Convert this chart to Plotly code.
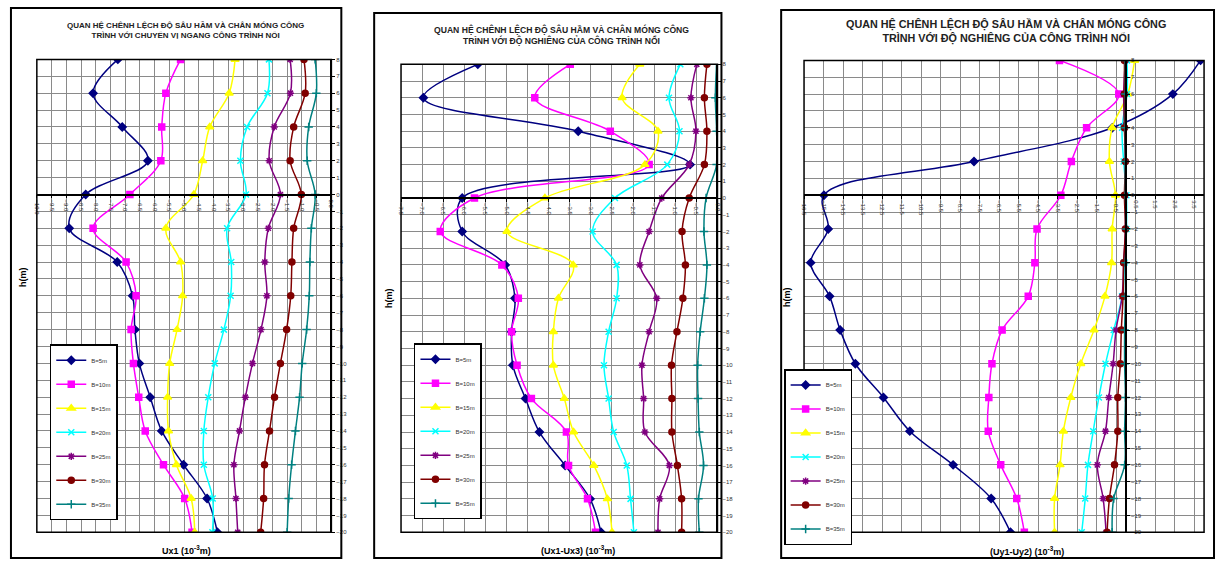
import plotly.graph_objects as go

W, H = 1220, 562
def fx(x): return x / W
def fy(y): return 1 - y / H

h = [8, 6, 4, 2, 0, -2, -4, -6, -8, -10, -12, -14, -16, -18, -20]
names = ["B=5m", "B=10m", "B=15m", "B=20m", "B=25m", "B=30m", "B=35m"]

# Panel 1: Ux1 (10^-3 m)
ux1_5 = [-7.25, -8.09, -7.10, -6.23, -8.34, -8.90, -7.27, -6.75, -6.67, -6.52, -6.15, -5.76, -5.02, -4.22, -3.87]
ux1_10 = [-5.12, -5.62, -5.76, -5.79, -6.84, -8.09, -6.97, -6.63, -6.80, -6.72, -6.54, -6.32, -5.70, -4.98, -4.73]
ux1_15 = [-3.27, -3.47, -4.13, -4.37, -4.67, -5.62, -5.12, -5.05, -5.24, -5.49, -5.56, -5.53, -5.26, -4.76, -4.64]
ux1_20 = [-2.12, -2.17, -2.86, -3.09, -2.90, -3.54, -3.40, -3.42, -3.65, -3.96, -4.18, -4.33, -4.33, -4.03, -4.04]
ux1_25 = [-1.40, -1.39, -1.94, -2.11, -1.73, -2.14, -2.26, -2.19, -2.39, -2.68, -2.92, -3.12, -3.31, -3.24, -3.18]
ux1_30 = [-0.93, -0.89, -1.28, -1.40, -1.02, -1.28, -1.34, -1.38, -1.52, -1.73, -1.93, -2.10, -2.27, -2.30, -2.40]
ux1_35 = [-0.55, -0.51, -0.77, -0.82, -0.55, -0.68, -0.73, -0.75, -0.84, -0.99, -1.08, -1.22, -1.35, -1.45, -1.50]

# Panel 2: (Ux1-Ux3) (10^-3 m)
dux_5 = [-5.68, -6.97, -3.30, -0.65, -6.05, -6.05, -5.03, -4.80, -4.88, -4.85, -4.55, -4.22, -3.61, -3.02, -2.76]
dux_10 = [-3.49, -4.33, -2.54, -1.62, -5.76, -6.57, -5.11, -4.72, -4.88, -4.75, -4.41, -3.58, -3.53, -3.08, -2.89]
dux_15 = [-1.84, -2.26, -1.41, -1.72, -4.09, -4.99, -3.42, -3.77, -3.89, -3.89, -3.63, -3.41, -2.93, -2.61, -2.50]
dux_20 = [-0.88, -1.15, -0.90, -1.19, -2.43, -2.96, -2.39, -2.39, -2.58, -2.69, -2.58, -2.46, -2.15, -2.06, -1.98]
dux_25 = [-0.49, -0.63, -0.51, -0.67, -1.32, -1.62, -1.84, -1.44, -1.62, -1.79, -1.75, -1.72, -1.14, -1.37, -1.41]
dux_30 = [-0.25, -0.31, -0.25, -0.31, -0.67, -0.84, -0.76, -0.82, -0.96, -1.09, -1.08, -1.08, -0.95, -0.85, -0.85]
dux_35 = [-0.02, -0.05, -0.02, -0.02, -0.27, -0.32, -0.25, -0.31, -0.41, -0.47, -0.46, -0.43, -0.33, -0.45, -0.43]

# Panel 3: (Uy1-Uy2) (10^-3 m)
duy_5 = [3.82, 2.40, -0.70, -7.79, -15.48, -15.26, -16.16, -15.19, -14.65, -13.87, -12.43, -11.08, -8.86, -6.91, -5.92]
duy_10 = [-3.41, -0.37, -2.02, -2.80, -3.34, -4.56, -4.67, -5.01, -6.35, -6.87, -7.03, -7.06, -6.42, -5.60, -5.21]
duy_15 = [0.44, 0.09, -0.71, -0.85, -0.54, -0.71, -0.74, -1.08, -1.64, -2.32, -2.83, -3.21, -3.38, -3.66, -3.66]
duy_20 = [0.05, 0.05, -0.20, -0.12, 0.02, 0.02, -0.08, -0.20, -0.63, -1.05, -1.39, -1.68, -1.95, -2.09, -2.27]
duy_25 = [-0.03, -0.12, -0.07, -0.03, -0.03, -0.03, -0.12, -0.20, -0.51, -0.66, -0.88, -1.05, -1.47, -1.17, -1.02]
duy_30 = [-0.08, -0.08, -0.08, -0.03, -0.08, -0.03, -0.12, -0.15, -0.24, -0.29, -0.42, -0.42, -0.59, -0.85, -0.97]
duy_35 = [-0.03, -0.03, -0.03, -0.03, -0.03, 0.02, -0.03, -0.03, -0.07, -0.07, -0.03, -0.07, -0.07, -0.63, -0.71]

panel_series = [
    [ux1_5, ux1_10, ux1_15, ux1_20, ux1_25, ux1_30, ux1_35],
    [dux_5, dux_10, dux_15, dux_20, dux_25, dux_30, dux_35],
    [duy_5, duy_10, duy_15, duy_20, duy_25, duy_30, duy_35],
]

colors = ["#000080", "#FF00FF", "#FFFF00", "#00FFFF", "#800080", "#800000", "#008080"]
symbols = ["diamond", "square", "triangle-up", "x-thin", "asterisk", "circle", "cross-thin"]
msizes = [6, 6, 7, 6, 6, 6, 6]

title_l1 = "QUAN HỆ CHÊNH LỆCH ĐỘ SÂU HẦM VÀ CHÂN MÓNG CÔNG"
titles = [
    title_l1 + "<br>TRÌNH VỚI CHUYỂN VỊ NGANG CÔNG TRÌNH NỔI",
    title_l1 + "<br>TRÌNH VỚI ĐỘ NGHIÊNG CỦA CÔNG TRÌNH NỔI",
    title_l1 + "<br>TRÌNH VỚI ĐỘ NGHIÊNG CỦA CÔNG TRÌNH NỔI",
]
xtitles = ["<b>Ux1 (10<sup>-3</sup>m)</b>", "<b>(Ux1-Ux3) (10<sup>-3</sup>m)</b>", "<b>(Uy1-Uy2) (10<sup>-3</sup>m)</b>"]

# pixel layout of each panel
panels = [
    dict(frame=(8, 5, 340, 561), px=(34, 330), py=(57, 535), xr=(-10, 0), tick0=-10, dtick=0.5,
         title=(183, 27, 8.0), xt=(184, 553), yt=(20, 277), leg=(47, 345)),
    dict(frame=(373, 10, 722, 561), px=(400, 718), py=(62, 535), xr=(-7.5, 0), tick0=-7.5, dtick=0.5,
         title=(561, 32, 8.6), xt=(578, 553), yt=(388, 298), leg=(413, 344)),
    dict(frame=(782, 7, 1217, 561), px=(805, 1207), py=(58, 535), xr=(-16.5, 4.0), tick0=-16.5, dtick=1,
         title=(1008, 29, 10.8), xt=(1029, 554), yt=(788, 297), leg=(785, 370)),
]

fig = go.Figure()
layout = dict(width=W, height=H, margin=dict(l=0, r=0, t=0, b=0),
              paper_bgcolor="white", plot_bgcolor="white",
              font=dict(family="Liberation Sans, Arial, sans-serif", color="black"),
              showlegend=True)
shapes, annotations = [], []

for i, p in enumerate(panels):
    k = "" if i == 0 else str(i + 1)
    xa, ya = "x" + k, "y" + k
    leg = "legend" + k
    for j in range(7):
        fig.add_trace(go.Scatter(
            x=panel_series[i][j], y=h, name=names[j], xaxis=xa, yaxis=ya, legend=leg,
            legendgroup=f"p{i}s{j}", mode="lines+markers",
            line=dict(color=colors[j], width=1.5, shape="spline", smoothing=1.0),
            marker=dict(symbol=symbols[j], size=msizes[j], color=colors[j],
                        line=dict(color=colors[j], width=1.5)),
        ))
    x0p, x1p = p["px"]
    ytop, ybot = p["py"]
    xr0, xr1 = p["xr"]
    y0pix = ytop + (8 - 0) * (ybot - ytop) / 28
    x0pix = x0p + (0 - xr0) * (x1p - x0p) / (xr1 - xr0)
    layout["xaxis" + k] = dict(
        domain=[fx(x0p), fx(x1p)], range=list(p["xr"]), anchor="free", position=fy(y0pix),
        side="bottom", tick0=p["tick0"], dtick=p["dtick"], tickformat=".1f", tickangle=90,
        tickfont=dict(size=6, color="#333"), ticks="outside", ticklen=3, tickcolor="black",
        showline=True, linecolor="black", linewidth=1.5, showgrid=True, gridcolor="#8a8a8a",
        gridwidth=1, zeroline=False, fixedrange=True,
    )
    layout["yaxis" + k] = dict(
        domain=[fy(ybot), fy(ytop)], range=[-20, 8], anchor="free", position=fx(x0pix),
        side="right", tick0=0, dtick=1, tickfont=dict(size=6, color="#333"),
        ticks="outside", ticklen=3, tickcolor="black", showline=True, linecolor="black",
        linewidth=1.5, showgrid=True, gridcolor="#8a8a8a", gridwidth=1, zeroline=False,
        fixedrange=True,
    )
    shapes.append(dict(type="rect", xref=xa + " domain", yref=ya + " domain", x0=0, x1=1, y0=0, y1=1,
                       line=dict(color="black", width=1.5), layer="above"))
    fx0, fy0, fx1, fy1 = p["frame"]
    shapes.append(dict(type="rect", xref="paper", yref="paper", x0=fx(fx0), x1=fx(fx1), y0=fy(fy1), y1=fy(fy0),
                       line=dict(color="black", width=2)))
    tx, ty, ts = p["title"]
    annotations.append(dict(text="<b>" + titles[i] + "</b>", x=fx(tx), y=fy(ty), xref="paper", yref="paper",
                            showarrow=False, font=dict(size=ts, color="#222"), xanchor="center", yanchor="middle"))
    ax, ay = p["xt"]
    annotations.append(dict(text=xtitles[i], x=fx(ax), y=fy(ay), xref="paper", yref="paper",
                            showarrow=False, font=dict(size=9), xanchor="center", yanchor="middle"))
    hx, hy = p["yt"]
    annotations.append(dict(text="<b>h(m)</b>", x=fx(hx), y=fy(hy), xref="paper", yref="paper",
                            showarrow=False, font=dict(size=9), textangle=-90, xanchor="center", yanchor="middle"))
    lx, ly = p["leg"]
    layout[leg] = dict(x=fx(lx), y=fy(ly), xanchor="left", yanchor="top", xref="paper", yref="paper",
                       bgcolor="white", bordercolor="black", borderwidth=1.5,
                       font=dict(size=6, color="#333"), tracegroupgap=5, itemwidth=30,
                       traceorder="grouped")

layout["shapes"] = shapes
layout["annotations"] = annotations
fig.update_layout(**layout)
fig.write_html("out.html", config={"displayModeBar": False},
               post_script="document.body.style.margin='0';document.body.style.padding='0';document.body.style.overflow='hidden';")
